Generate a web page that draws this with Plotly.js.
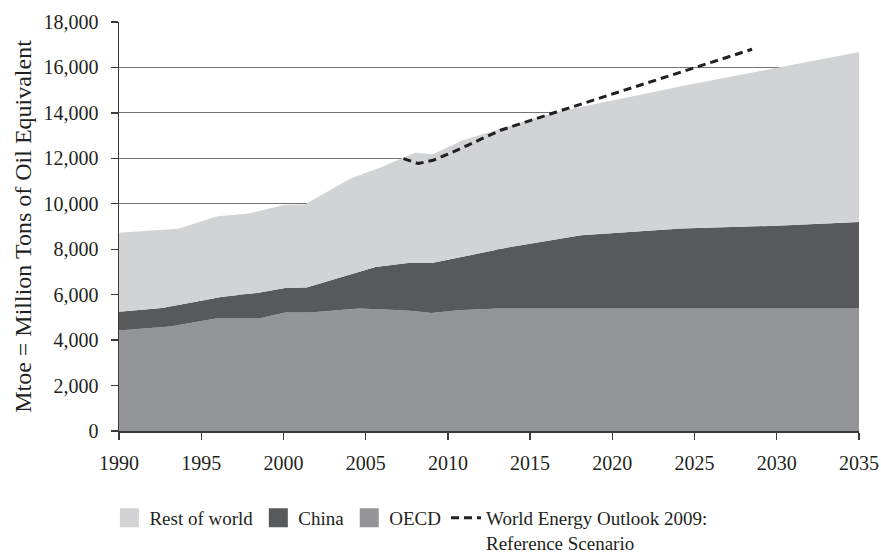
<!DOCTYPE html>
<html>
<head>
<meta charset="utf-8">
<script src="https://cdn.plot.ly/plotly-3.0.1.min.js"></script>
<style>
  html, body { margin: 0; padding: 0; background: #ffffff; }
  #chart { width: 881px; height: 555px; }
</style>
</head>
<body>
<div id="chart"></div>
<script>
// ---- Data (Mtoe, cumulative stack tops) ----
const oecdYears  = [1990, 1993.1, 1995.9, 1998.5, 2000.1, 2001.6, 2003.3, 2004.6, 2006.5, 2007.9, 2009.0, 2010.6, 2013.0, 2035];
const oecdTop    = [4420, 4600, 4947, 4947, 5215, 5220, 5312, 5395, 5340, 5282, 5194, 5312, 5390, 5390];

const chinaYears = [1990, 1992.6, 1994.1, 1996.2, 1998.4, 2000.1, 2001.4, 2005.6, 2007.7, 2009.1, 2011.35, 2013.8, 2018.1, 2024.2, 2030.3, 2035];
const chinaTop   = [5250, 5414, 5607, 5898, 6074, 6294, 6312, 7218, 7410, 7410, 7733, 8099, 8614, 8908, 9040, 9199];

const worldYears = [1990, 1991.5, 1993.6, 1996.0, 1997.9, 2000.1, 2001.3, 2004.05, 2005.9, 2008.0, 2009.1, 2010.9, 2013.3, 2016.6, 2024.5, 2029.0, 2035];
const worldTotal = [8720, 8800, 8900, 9450, 9570, 9960, 9970, 11100, 11600, 12250, 12180, 12795, 13330, 14040, 15216, 15845, 16680];

const weoYears   = [2007.3, 2008.2, 2009.1, 2010.0, 2011.2, 2013.2, 2016.6, 2028.5];
const weoValues  = [11990, 11770, 11915, 12180, 12575, 13235, 14040, 16800];

const seriesNames = ["Rest of world", "China", "OECD", "World Energy Outlook 2009:<br>Reference Scenario"];
const xTickVals = [1990, 1995, 2000, 2005, 2010, 2015, 2020, 2025, 2030, 2035];
const yTickVals = [0, 2000, 4000, 6000, 8000, 10000, 12000, 14000, 16000, 18000];

// ---- Styles ----
const colRest = "#d1d3d4", colChina = "#58595b", colOecd = "#939598", colInk = "#231f20";
const fontFam = "Liberation Serif, DejaVu Serif, serif";

const traces = [
  { x: oecdYears, y: oecdTop, type: "scatter", mode: "lines", fill: "tozeroy",
    fillcolor: colOecd, line: { width: 0, color: colOecd }, showlegend: false, hoverinfo: "skip" },
  { x: chinaYears, y: chinaTop, type: "scatter", mode: "lines", fill: "tonexty",
    fillcolor: colChina, line: { width: 0, color: colChina }, showlegend: false, hoverinfo: "skip" },
  { x: worldYears, y: worldTotal, type: "scatter", mode: "lines", fill: "tonexty",
    fillcolor: colRest, line: { width: 0, color: colRest }, showlegend: false, hoverinfo: "skip" },
  { x: weoYears, y: weoValues, type: "scatter", mode: "lines", name: seriesNames[3], legendrank: 4,
    line: { color: colInk, width: 3, dash: "8px,5px" }, hoverinfo: "skip" },
  // legend swatches
  { x: [null], y: [null], type: "scatter", mode: "markers", name: seriesNames[0], legendrank: 1,
    marker: { symbol: "square", size: 20, color: colRest, line: { width: 3, color: colRest } } },
  { x: [null], y: [null], type: "scatter", mode: "markers", name: seriesNames[1], legendrank: 2,
    marker: { symbol: "square", size: 20, color: colChina, line: { width: 3, color: colChina } } },
  { x: [null], y: [null], type: "scatter", mode: "markers", name: seriesNames[2], legendrank: 3,
    marker: { symbol: "square", size: 20, color: colOecd, line: { width: 3, color: colOecd } } }
];

const layout = {
  width: 881, height: 555,
  margin: { l: 119, r: 22, t: 22, b: 124, autoexpand: false },
  paper_bgcolor: "#ffffff", plot_bgcolor: "#ffffff",
  font: { family: fontFam, color: colInk, size: 20 },
  xaxis: {
    range: [1990, 2035], tickvals: xTickVals, ticktext: xTickVals.map(String),
    showgrid: false, zeroline: false, showline: true, linecolor: "#3a3a3a", linewidth: 1.5,
    ticks: "outside", ticklen: 7, tickwidth: 1.3, tickcolor: "#3a3a3a", ticklabelstandoff: 6,
    tickfont: { family: fontFam, size: 20, color: colInk }, fixedrange: true
  },
  yaxis: {
    range: [0, 18000], tickvals: yTickVals, tickformat: ",d",
    showgrid: true, gridcolor: "#727376", gridwidth: 1, zeroline: false,
    showline: true, linecolor: "#3a3a3a", linewidth: 1.5,
    ticks: "outside", ticklen: 7, tickwidth: 1.3, tickcolor: "#3a3a3a", ticklabelstandoff: 8,
    tickfont: { family: fontFam, size: 20, color: colInk },
    title: { text: "Mtoe = Million Tons of Oil Equivalent", font: { family: fontFam, size: 24, color: colInk }, standoff: 5 },
    fixedrange: true
  },
  legend: {
    orientation: "h", x: -0.013, xanchor: "left", y: -0.166, yanchor: "top",
    font: { family: fontFam, size: 19, color: colInk }, valign: "top",
    bgcolor: "rgba(0,0,0,0)", borderwidth: 0, traceorder: "normal"
  },
  showlegend: true
};

Plotly.newPlot("chart", traces, layout, { displayModeBar: false, staticPlot: true });
</script>
</body>
</html>
